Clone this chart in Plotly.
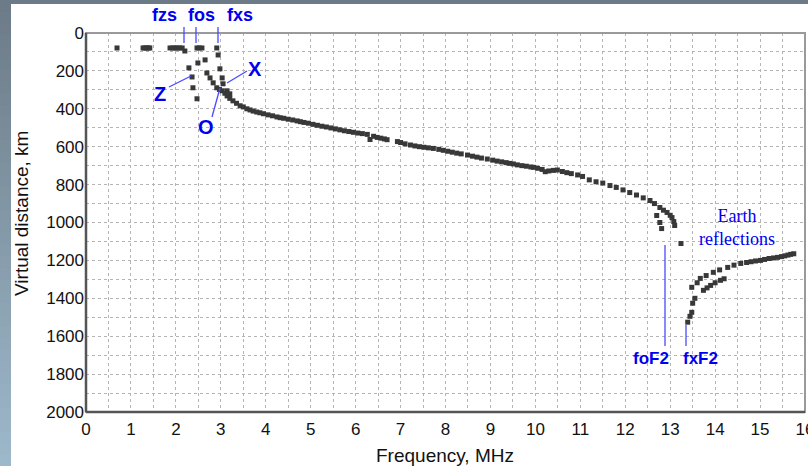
import plotly.graph_objects as go

# ---------------- data ----------------
# low-frequency sporadic echoes (MHz, km)
echo_f = [0.69, 1.27, 1.31, 1.35, 1.39, 1.42, 1.87, 1.93, 1.98, 2.03, 2.08, 2.14, 2.20, 2.47, 2.52, 2.58, 2.91, 2.94]
echo_h = [79, 79, 79, 79, 79, 79, 79, 79, 79, 79, 79, 79, 95, 79, 79, 79, 79, 116]

# Z-trace
z_f = [2.29, 2.36, 2.38, 2.47, 2.49, 2.65]
z_h = [184, 232, 289, 347, 158, 142]

# X-trace (sporadic)
x_f = [2.98, 3.03, 3.05, 3.14, 3.20]
x_h = [189, 237, 268, 305, 321]

# O-trace / main F2 trace
o_f = [2.69, 2.76, 2.83, 2.91, 2.97, 3.03, 3.09, 3.14, 3.20, 3.27, 3.35, 3.43, 3.50, 3.58, 3.65, 3.72,
       3.80, 3.87, 3.95, 4.05, 4.15, 4.25, 4.32, 4.40, 4.50, 4.60, 4.70, 4.77, 4.85, 4.95, 5.05, 5.15,
       5.25, 5.35, 5.45, 5.55, 5.65, 5.75, 5.85, 5.95, 6.05, 6.15, 6.26, 6.32, 6.40, 6.48, 6.56, 6.64,
       6.70, 6.93, 7.00, 7.10, 7.22, 7.32, 7.42, 7.52, 7.62, 7.73, 7.85, 7.95, 8.05, 8.15, 8.25, 8.35,
       8.49, 8.60, 8.70, 8.80, 8.93, 9.05, 9.15, 9.25, 9.35, 9.43, 9.51, 9.60, 9.70, 9.80, 9.90, 9.96,
       10.05, 10.15, 10.22, 10.30, 10.40, 10.49, 10.60, 10.70, 10.80, 10.94, 11.05, 11.20, 11.35, 11.50,
       11.66, 11.80, 11.95, 12.10, 12.25, 12.40, 12.55, 12.65, 12.77, 12.85, 12.93, 13.00, 13.04, 13.08, 13.10]
o_h = [211, 237, 263, 289, 298, 305, 318, 332, 345, 358, 371, 384, 390, 400, 406, 412,
       417, 421, 426, 432, 437, 443, 447, 450, 455, 459, 464, 468, 472, 476, 482, 487,
       492, 496, 501, 506, 511, 516, 520, 524, 528, 531, 535, 562, 545, 551, 555, 559,
       563, 573, 578, 585, 591, 596, 600, 603, 606, 609, 614, 619, 624, 629, 634, 638,
       644, 650, 655, 660, 665, 671, 676, 680, 684, 688, 691, 696, 700, 703, 707, 709,
       714, 720, 732, 728, 725, 723, 731, 737, 742, 749, 757, 775, 785, 792,
       805, 815, 828, 842, 855, 870, 884, 900, 921, 935, 947, 962, 974, 995, 1016]

# scattered points near foF2
f2_f = [12.70, 12.77, 12.81, 13.24]
f2_h = [963, 1000, 1032, 1111]

# extraordinary F2 trace / earth reflections
xf2_f = [13.39, 13.44, 13.48, 13.50, 13.55, 13.48, 13.60, 13.67, 13.80, 13.96, 14.10, 14.28, 14.42,
         14.57, 14.70, 14.80, 14.90, 15.01, 15.10, 15.20, 15.30, 15.39, 15.48, 15.55, 15.62, 15.68, 15.75,
         13.74, 13.82, 13.90, 14.00, 14.12, 14.20]
xf2_h = [1526, 1495, 1474, 1426, 1400, 1342, 1318, 1295, 1280, 1263, 1250, 1237, 1225,
         1216, 1211, 1207, 1203, 1200, 1195, 1190, 1187, 1184, 1180, 1176, 1172, 1168, 1165,
         1358, 1345, 1332, 1318, 1305, 1297]

x_ticks = list(range(0, 17))
y_ticks = list(range(0, 2001, 200))

# ---------------- figure ----------------
W, H = 808, 466
L, R, T, B = 86, 3, 33, 54
pw, ph = W - L - R, H - T - B


def px(x):
    return (x - L) / pw


def py(y):
    return (H - B - y) / ph


mk = dict(size=5, color="#383838", symbol="square", line=dict(width=0))
fig = go.Figure()
for fx, hy in [(echo_f, echo_h), (z_f, z_h), (x_f, x_h), (o_f, o_h), (f2_f, f2_h), (xf2_f, xf2_h)]:
    fig.add_trace(go.Scatter(x=fx, y=hy, mode="markers", marker=mk, showlegend=False, hoverinfo="skip"))

grid = dict(showgrid=True, gridcolor="#b4b4b4", griddash="dot", gridwidth=1)
fig.update_xaxes(range=[0, 16], tickvals=x_ticks, ticktext=[str(v) for v in x_ticks],
                 zeroline=False, showline=False, ticks="", ticklabelstandoff=5,
                 ticklabeloverflow="allow", automargin=False,
                 tickfont=dict(family="Arial, Liberation Sans", size=17, color="#111"),
                 minor=dict(dtick=0.5, showgrid=True, gridcolor="#b4b4b4", griddash="dot"), **grid)
fig.update_yaxes(range=[2000, 0], tickvals=y_ticks, ticktext=[str(v) for v in y_ticks],
                 zeroline=False, showline=False, ticks="", ticklabelstandoff=1,
                 ticklabeloverflow="allow", automargin=False,
                 tickfont=dict(family="Arial, Liberation Sans", size=17, color="#111"),
                 minor=dict(dtick=100, showgrid=True, gridcolor="#b4b4b4", griddash="dot"), **grid)

shapes = []
# page background strips (slate gradient on the left, slate bar on top)
n = 40
c0, c1 = (0x6c, 0x7b, 0x87), (0x9d, 0xb8, 0xca)
for i in range(n):
    t = i / (n - 1)
    col = "rgb(%d,%d,%d)" % tuple(round(a + (b - a) * t) for a, b in zip(c0, c1))
    shapes.append(dict(type="rect", xref="paper", yref="paper", layer="below",
                       x0=px(0), x1=px(11), y0=py(H * (i + 1) / n + 1), y1=py(H * i / n),
                       fillcolor=col, line=dict(width=0)))
shapes.append(dict(type="rect", xref="paper", yref="paper", layer="below",
                   x0=px(0), x1=px(W), y0=py(4), y1=py(0), fillcolor="rgb(108,123,135)", line=dict(width=0)))
# plot frame
shapes.append(dict(type="rect", xref="paper", yref="paper", x0=0, x1=1, y0=0, y1=1,
                   line=dict(color="#9a9a9a", width=2)))
shapes.append(dict(type="line", xref="paper", yref="paper", x0=0, x1=0, y0=0, y1=1,
                   line=dict(color="#555555", width=2.5)))
shapes.append(dict(type="line", xref="paper", yref="paper", x0=0, x1=1, y0=0, y1=0,
                   line=dict(color="#555555", width=2.5)))

blue = "#0000f0"
lblue = "#4a4aff"
# pointer lines
for (xa, ya, xb, yb) in [(184, 27, 184, 43), (196, 27, 196, 43), (218, 27, 218, 43),
                         (169, 87, 191, 76), (247, 71, 227, 83), (212, 117, 220, 88),
                         (665, 245, 665, 346), (686, 325, 686, 346)]:
    shapes.append(dict(type="line", xref="paper", yref="paper", x0=px(xa), y0=py(ya), x1=px(xb), y1=py(yb),
                       line=dict(color=lblue, width=1.3)))

ann = []
for txt, x, y, s in [("fzs", 164, 15, 18), ("fos", 201, 15, 18), ("fxs", 240, 15, 18),
                     ("Z", 160, 94, 20), ("X", 255, 69, 20), ("O", 206, 127, 20),
                     ("foF2", 651, 358, 17), ("fxF2", 700, 358, 17)]:
    ann.append(dict(text="<b>%s</b>" % txt, xref="paper", yref="paper", x=px(x), y=py(y),
                    xanchor="center", yanchor="middle", showarrow=False,
                    font=dict(family="Arial, Liberation Sans", size=s, color=blue)))
ann.append(dict(text="Earth<br>reflections", xref="paper", yref="paper", x=px(737), y=py(227),
                xanchor="center", yanchor="middle", showarrow=False, align="center",
                font=dict(family="Times New Roman, Liberation Serif", size=18, color=blue)))
# axis titles
ann.append(dict(text="Frequency, MHz", xref="paper", yref="paper", x=px(445), y=py(455),
                xanchor="center", yanchor="middle", showarrow=False,
                font=dict(family="Arial, Liberation Sans", size=19, color="#111")))
ann.append(dict(text="Virtual distance, km", xref="paper", yref="paper", x=px(22), y=py(214),
                xanchor="center", yanchor="middle", showarrow=False, textangle=-90,
                font=dict(family="Arial, Liberation Sans", size=19, color="#111")))

fig.update_layout(width=W, height=H, margin=dict(l=L, r=R, t=T, b=B, pad=0, autoexpand=False),
                  paper_bgcolor="white", plot_bgcolor="white",
                  shapes=shapes, annotations=ann, hovermode=False, showlegend=False)

fig.write_html("out.html", config={"displayModeBar": False})
